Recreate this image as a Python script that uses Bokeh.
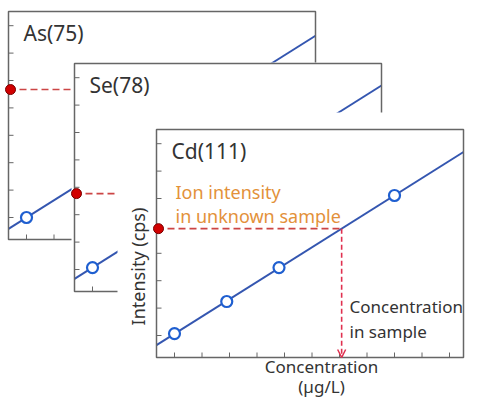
import numpy as np
from bokeh.plotting import figure
from bokeh.models import Range1d, Arrow, OpenHead
from bokeh.core.properties import value
from bokeh.embed import file_html
from bokeh.resources import INLINE

# ---------------- data (schematic units) ----------------
elements = ["As(75)", "Se(78)", "Cd(111)"]
std_conc = [0.0, 1.9, 3.8, 8.0]            # calibration standards (concentration)
as_counts = [0.0, 1.2, 2.4, 5.05]          # ion intensity of standards, As
se_counts = [0.07, 1.27, 2.47, 5.13]       # ion intensity of standards, Se
cd_counts = [0.07, 1.24, 2.48, 5.11]       # ion intensity of standards, Cd
sample_counts = [4.67, 2.77, 3.90]         # ion intensity of unknown sample
conc_ticks = list(range(0, 11))
count_ticks = list(range(0, 8))
x_label_lines = ["Concentration", "(µg/L)"]
y_label = "Intensity (cps)"
note_intensity = ["Ion intensity", "in unknown sample"]
note_conc = ["Concentration", "in sample"]
series = [as_counts, se_counts, cd_counts]

# ---------------- layout ----------------
W, H = 466, 397
PX, PY = 27.5, 27.4                         # px per unit on each panel
origins = [(26, 217), (92, 269), (174, 335)]  # px of each panel's (0,0)
FL, FR, FT, FB = 18, 289, 206, 22           # frame extent around origin (px)
FONT = value("Noto Sans")
TXT = "#333333"
FRAME = "#666666"
BLUE_LINE = "#3456b0"
BLUE_PT = "#1f5fd0"
RED_DOT = "#d10000"
RED_DASH = "#cc4545"
ORANGE = "#e3913a"


def X(ix):
    return ix


def Y(iy):
    return H - iy


p = figure(width=W, height=H, x_range=Range1d(0, W), y_range=Range1d(0, H),
           x_axis_type=None, y_axis_type=None, output_backend="svg",
           toolbar_location=None, min_border=0, outline_line_color=None,
           background_fill_color="white", border_fill_color="white")

for i, name in enumerate(["as", "se", "cd"]):
    ox = X(origins[i][0])
    oy = origins[i][1]
    p.extra_x_ranges[name] = Range1d(-ox / PX, (W - ox) / PX)
    p.extra_y_ranges[name] = Range1d((oy - H) / PY, oy / PY)
    kw = dict(x_range_name=name, y_range_name=name)

    xl, xr, yt, yb = -FL / PX, FR / PX, FT / PY, -FB / PY

    # panel background (covers the panels behind)
    if i == 1:
        p.quad(left=[xl - 3 / PX], right=[xr + 1 / PX], top=[yt + 1 / PY],
               bottom=[yb - 1 / PY], fill_color="white", line_color=None, **kw)
    if i == 2:
        p.quad(left=[xl - 39 / PX], right=[100], top=[yt + 17 / PY],
               bottom=[-100], fill_color="white", line_color=None, **kw)

    counts = series[i]
    m, b = np.polyfit(std_conc, counts, 1)
    x_end = xr
    if m * x_end + b > yt:
        x_end = (yt - b) / m
    p.line([xl, x_end], [m * xl + b, m * x_end + b], line_color=BLUE_LINE,
           line_width=2, **kw)

    # frame + inside ticks
    p.quad(left=[xl], right=[xr], top=[yt], bottom=[yb], fill_color=None,
           line_color=FRAME, line_width=1.5, **kw)
    n = len(conc_ticks)
    p.segment(x0=conc_ticks, y0=[yb] * n, x1=conc_ticks, y1=[yb + 5 / PY] * n,
              line_color=FRAME, line_width=1, **kw)
    k = len(count_ticks)
    p.segment(x0=[xl] * k, y0=count_ticks, x1=[xl + 5 / PX] * k, y1=count_ticks,
              line_color=FRAME, line_width=1, **kw)

    # unknown sample read-off
    s = sample_counts[i]
    xs = (s - b) / m
    p.segment(x0=[xl], y0=[s], x1=[xs], y1=[s], line_color=RED_DASH,
              line_width=1.6, line_dash="7 4", **kw)
    if i == 2:
        p.add_layout(Arrow(end=OpenHead(size=8, line_color="#e0304f", line_width=1.5),
                           x_start=xs, y_start=s, x_end=xs, y_end=yb,
                           line_color="#e0304f", line_width=1.6, line_dash="5 3",
                           x_range_name=name, y_range_name=name))
    else:
        p.segment(x0=[xs], y0=[s], x1=[xs], y1=[yb], line_color=RED_DASH,
                  line_width=1.6, line_dash="7 4", **kw)

    p.scatter(std_conc, counts, size=11, marker="circle", fill_color="white",
              line_color=BLUE_PT, line_width=2.2, **kw)
    p.scatter([xl + 2 / PX], [s], size=10, marker="circle", fill_color=RED_DOT,
              line_color="#7a0000", line_width=1, **kw)

    p.text(x=[xl], y=[yt], text=[elements[i]], x_offset=15, y_offset=21,
           text_baseline="middle", text_align="left", text_font=FONT,
           text_font_size="21px", text_color=TXT, **kw)

# notes inside the Cd panel
p.text(x=[X(175)] * 2, y=[Y(191), Y(215)], text=note_intensity,
       text_baseline="alphabetic", text_align="left", text_font=FONT,
       text_font_size="18px", text_color=ORANGE)
p.text(x=[X(349)] * 2, y=[Y(306), Y(331)], text=note_conc,
       text_baseline="alphabetic", text_align="left", text_font=FONT,
       text_font_size="17px", text_color=TXT)

# axis titles of the front panel
p.text(x=[X(321)] * 2, y=[Y(366), Y(386)], text=x_label_lines,
       text_baseline="alphabetic", text_align="center", text_font=FONT,
       text_font_size="17px", text_color=TXT)
p.text(x=[X(137)], y=[Y(266)], text=[y_label], angle=np.pi / 2,
       text_baseline="middle", text_align="center", text_font=FONT,
       text_font_size="18px", text_color=TXT)

open("out.html", "w").write(file_html(p, INLINE))
